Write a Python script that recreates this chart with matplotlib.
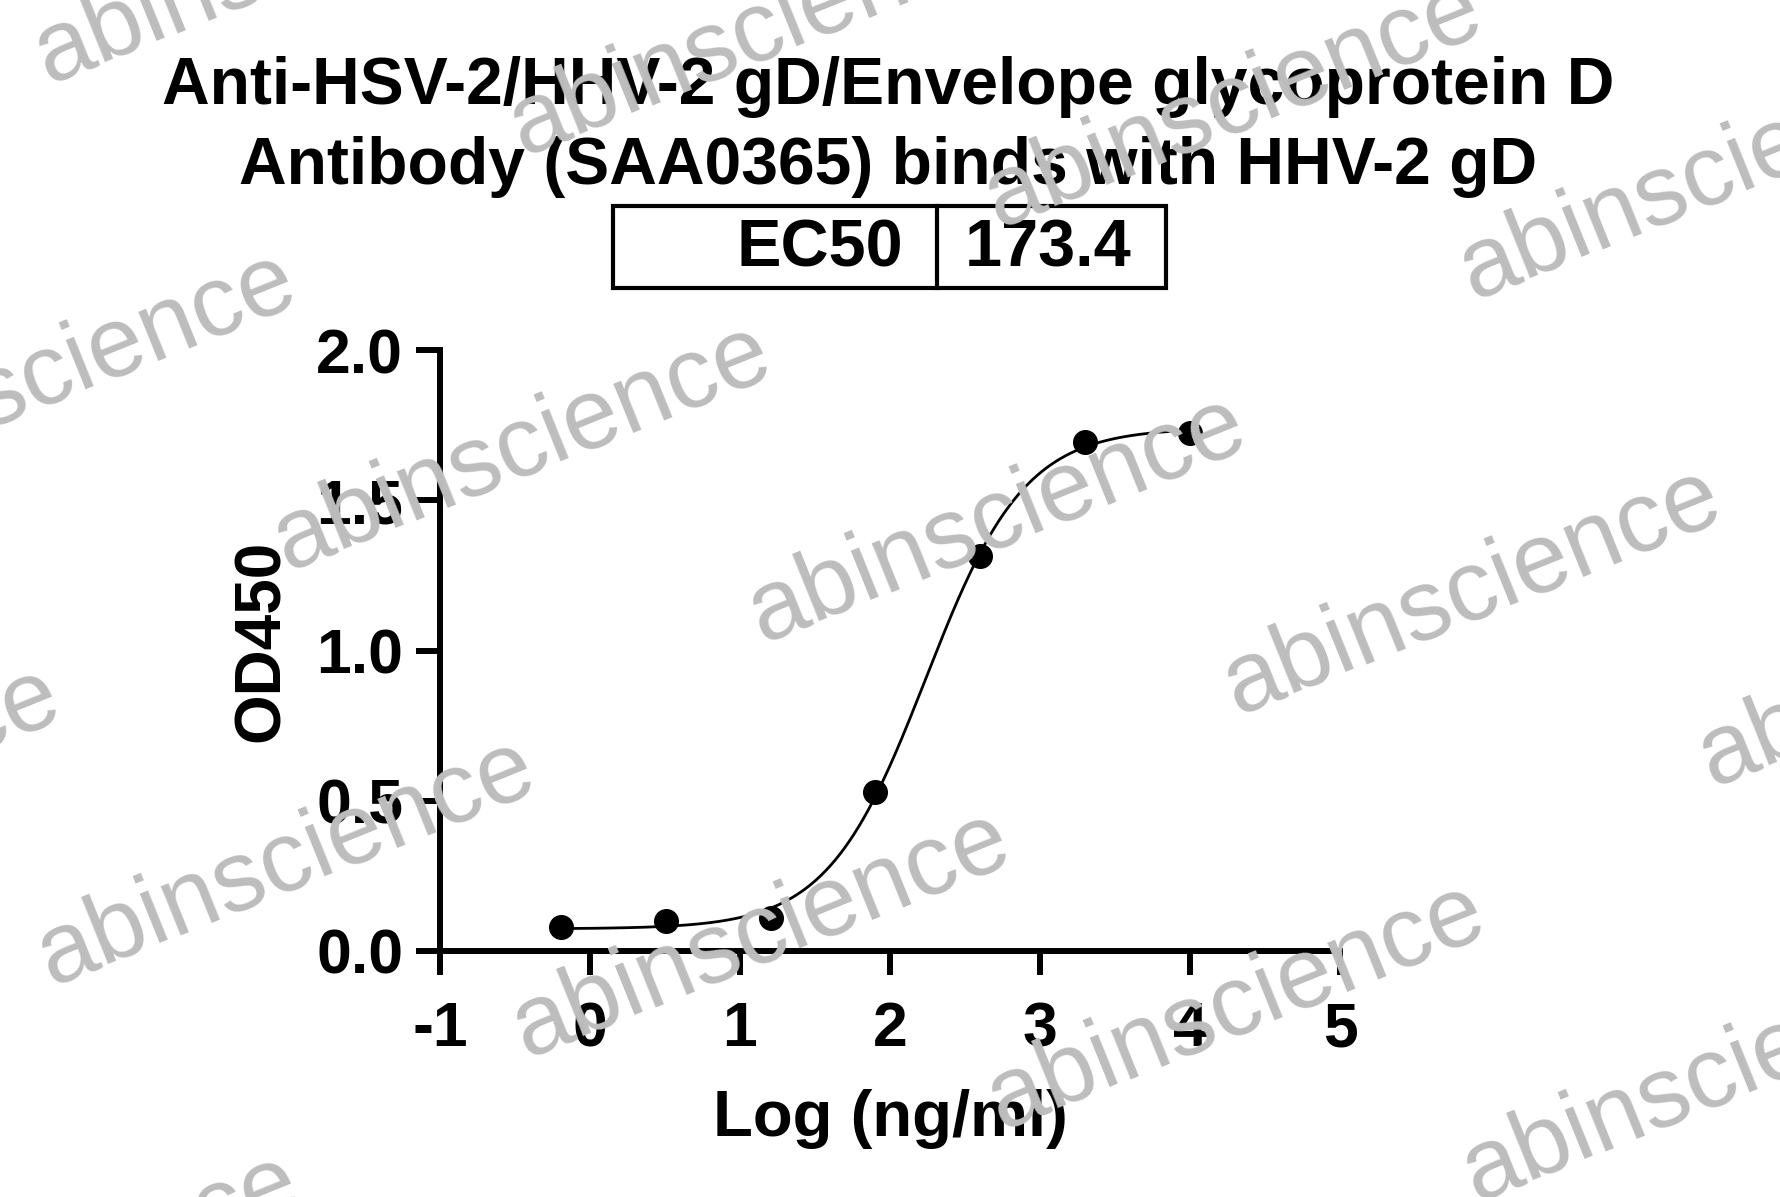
import numpy as np
import matplotlib
matplotlib.use("Agg")
import matplotlib.pyplot as plt
from matplotlib.patches import Rectangle
from matplotlib.lines import Line2D

plt.rcParams['font.family'] = ['Liberation Sans', 'DejaVu Sans']
plt.rcParams['axes.unicode_minus'] = False

# ---- data ----
log_conc = [-0.194, 0.505, 1.204, 1.903, 2.602, 3.301, 4.0]
od450 = [0.080, 0.100, 0.111, 0.528, 1.313, 1.694, 1.724]
ec50_value = 173.4
x_ticks = [-1, 0, 1, 2, 3, 4, 5]
x_tick_labels = ["-1", "0", "1", "2", "3", "4", "5"]
y_ticks = [0.0, 0.5, 1.0, 1.5, 2.0]
y_tick_labels = ["0.0", "0.5", "1.0", "1.5", "2.0"]
title_lines = ["Anti-HSV-2/HHV-2 gD/Envelope glycoprotein D",
               "Antibody (SAA0365) binds with HHV-2 gD"]
table_label = "EC50"
x_label = "Log (ng/ml)"
y_label = "OD450"
watermark = "abinscience"

# ---- 4PL fit with fixed EC50 ----
xd = np.array(log_conc)
yd = np.array(od450)
logec50 = np.log10(ec50_value)
best = None
for h in np.linspace(0.5, 3.0, 501):
    f = 1.0 / (1.0 + 10 ** ((logec50 - xd) * h))
    A = np.vstack([1 - f, f]).T
    coef, res, *_ = np.linalg.lstsq(A, yd, rcond=None)
    err = np.sum((A @ coef - yd) ** 2)
    if best is None or err < best[0]:
        best = (err, h, coef)
_, hill, (bottom, top) = best
xc = np.linspace(xd.min(), xd.max(), 400)
yc = bottom + (top - bottom) / (1.0 + 10 ** ((logec50 - xc) * hill))

W, H = 1781, 1197
fig = plt.figure(figsize=(W / 100, H / 100), dpi=100)
fig.patch.set_facecolor('white')

def fx(px):
    return px / W

def fy(py):
    return 1 - py / H

ax = fig.add_axes([fx(440), fy(951), fx(1340) - fx(440), fy(350) - fy(951)])
ax.plot(xc, yc, color='black', lw=2.0, zorder=3)
ax.plot(xd, yd, 'o', color='black', ms=17, zorder=4, clip_on=False)

ax.set_xlim(-1, 5)
ax.set_ylim(0, 2)
ax.set_xticks(x_ticks)
ax.set_xticklabels(x_tick_labels)
ax.set_yticks(y_ticks)
ax.set_yticklabels(y_tick_labels)
for s in ['top', 'right']:
    ax.spines[s].set_visible(False)
for s in ['left', 'bottom']:
    ax.spines[s].set_linewidth(4.3)
ax.tick_params(axis='both', direction='out', length=17.5, width=4.3, labelsize=45)
ax.tick_params(axis='x', pad=18)
ax.tick_params(axis='y', pad=9)
for lab in ax.get_xticklabels() + ax.get_yticklabels():
    lab.set_fontweight('bold')

ax.set_xlabel(x_label, fontsize=47, fontweight='bold')
ax.xaxis.set_label_coords(0.5, -0.23)
ax.set_ylabel(y_label, fontsize=46, fontweight='bold')
ax.yaxis.set_label_coords(-0.165, 0.516)

# ---- title ----
fig.text(fx(888), fy(104.5), title_lines[0], ha='center', va='baseline',
         fontsize=47.5, fontweight='bold')
fig.text(fx(888), fy(184), title_lines[1], ha='center', va='baseline',
         fontsize=47.5, fontweight='bold')

# ---- EC50 box ----
fig.add_artist(Rectangle((fx(613), fy(288)), fx(1166) - fx(613), fy(206) - fy(288),
                         transform=fig.transFigure, fill=False, lw=3.0, edgecolor='black'))
fig.add_artist(Line2D([fx(937), fx(937)], [fy(288), fy(206)],
                      transform=fig.transFigure, lw=3.0, color='black'))
fig.text(fx(903), fy(267), table_label, ha='right', va='baseline',
         fontsize=48, fontweight='bold')
fig.text(fx(1132), fy(267), f"{ec50_value:.1f}", ha='right', va='baseline',
         fontsize=48, fontweight='bold')

# ---- watermark grid ----
p0 = np.array([762.0, 643.0])
rvec = np.array([475.0, 72.0])
cvec = np.array([-236.0, 415.0])
for i in range(-3, 4):
    for j in range(-4, 5):
        p = p0 + j * rvec + i * cvec
        if -700 < p[0] < W + 50 and -50 < p[1] < H + 300:
            fig.text(fx(p[0]), fy(p[1]), watermark, rotation=22, rotation_mode='anchor',
                     ha='left', va='baseline', fontsize=72, color='#bdbdbd',
                     zorder=20)

fig.savefig('out.png', dpi=100)
